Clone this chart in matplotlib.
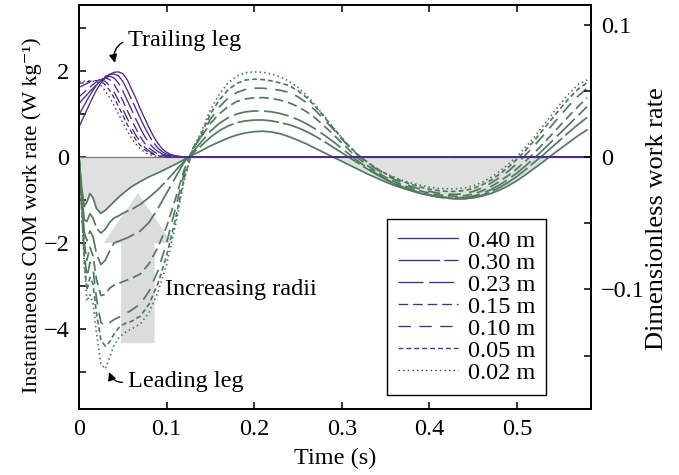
import matplotlib
matplotlib.use('Agg')
import matplotlib.pyplot as plt

plt.rcParams['font.family'] = ['Liberation Serif', 'DejaVu Serif']
plt.rcParams['mathtext.fontset'] = 'stix'
plt.rcParams['font.size'] = 17.5
plt.rcParams['lines.scale_dashes'] = False
plt.rcParams['axes.unicode_minus'] = True

# ---------------- data ----------------
radii_labels = ['0.40 m', '0.30 m', '0.23 m', '0.15 m', '0.10 m', '0.05 m', '0.02 m']

time_lead = [0, 0.003, 0.006, 0.009, 0.0125, 0.016, 0.02, 0.025, 0.03, 0.035, 0.04, 0.045, 0.05, 0.055,
             0.06, 0.07, 0.08, 0.09, 0.10, 0.11, 0.12,
             0.13, 0.14, 0.15, 0.16, 0.17, 0.18, 0.19, 0.20, 0.21, 0.22, 0.23, 0.24,
             0.25, 0.26, 0.27, 0.28, 0.29, 0.30, 0.31, 0.32, 0.33, 0.34, 0.35, 0.36,
             0.37, 0.38, 0.39, 0.40, 0.41, 0.42, 0.43, 0.44, 0.45, 0.46, 0.47, 0.48,
             0.49, 0.50, 0.51, 0.52, 0.53, 0.54, 0.55, 0.56, 0.57, 0.58]

lead_040 = [0, -0.70, -1.15, -1.05, -0.85, -0.95, -1.20, -1.31, -1.24, -1.14, -1.04, -0.94, -0.85, -0.77,
            -0.69, -0.57, -0.46, -0.37, -0.27, -0.17, -0.06,
            0.05, 0.15, 0.26, 0.35, 0.44, 0.51, 0.56, 0.59, 0.60, 0.58, 0.54, 0.47,
            0.39, 0.30, 0.20, 0.10, 0.00, -0.10, -0.20, -0.30, -0.40, -0.49, -0.58, -0.66,
            -0.73, -0.79, -0.85, -0.89, -0.93, -0.95, -0.97, -0.97, -0.95, -0.91, -0.85, -0.77,
            -0.67, -0.55, -0.41, -0.26, -0.11, 0.05, 0.20, 0.35, 0.50, 0.63]
lead_030 = [0, -0.85, -1.45, -1.50, -1.32, -1.42, -1.65, -1.77, -1.68, -1.52, -1.42, -1.37, -1.31, -1.26,
            -1.22, -1.10, -0.94, -0.76, -0.55, -0.32, -0.10,
            0.09, 0.27, 0.46, 0.61, 0.72, 0.80, 0.84, 0.86, 0.86, 0.84, 0.80, 0.75,
            0.68, 0.59, 0.48, 0.36, 0.23, 0.10, -0.03, -0.16, -0.29, -0.41, -0.52, -0.62,
            -0.71, -0.78, -0.84, -0.89, -0.93, -0.96, -0.97, -0.97, -0.94, -0.89, -0.81, -0.71,
            -0.59, -0.45, -0.29, -0.12, 0.05, 0.23, 0.41, 0.59, 0.76, 0.92]
lead_023 = [0, -0.95, -1.75, -1.95, -1.72, -1.85, -2.25, -2.50, -2.40, -2.18, -2.00, -1.96, -1.92, -1.88,
            -1.83, -1.72, -1.52, -1.20, -0.84, -0.48, -0.12,
            0.12, 0.36, 0.60, 0.78, 0.91, 1.00, 1.05, 1.07, 1.07, 1.05, 1.01, 0.95,
            0.87, 0.77, 0.65, 0.51, 0.36, 0.20, 0.04, -0.12, -0.26, -0.39, -0.51, -0.61,
            -0.70, -0.77, -0.83, -0.88, -0.92, -0.94, -0.95, -0.94, -0.91, -0.85, -0.76, -0.65,
            -0.52, -0.37, -0.20, -0.02, 0.17, 0.37, 0.57, 0.77, 0.97, 1.17]
lead_015 = [0, -1.05, -2.00, -2.40, -2.10, -2.30, -2.85, -3.22, -3.20, -3.05, -2.98, -2.94, -2.90, -2.86,
            -2.82, -2.72, -2.48, -2.10, -1.62, -0.98, -0.30,
            0.20, 0.48, 0.78, 1.00, 1.17, 1.29, 1.35, 1.38, 1.38, 1.36, 1.32, 1.26,
            1.17, 1.05, 0.90, 0.72, 0.53, 0.33, 0.13, -0.05, -0.21, -0.35, -0.47, -0.57,
            -0.66, -0.73, -0.79, -0.84, -0.88, -0.90, -0.91, -0.90, -0.86, -0.79, -0.69, -0.57,
            -0.43, -0.27, -0.09, 0.10, 0.31, 0.53, 0.75, 0.97, 1.18, 1.38]
lead_010 = [0, -1.10, -2.20, -2.80, -2.45, -2.60, -3.30, -3.85, -3.93, -3.85, -3.78, -3.73, -3.68, -3.62,
            -3.56, -3.42, -3.12, -2.65, -2.00, -1.20, -0.38,
            0.17, 0.50, 0.88, 1.16, 1.37, 1.50, 1.57, 1.60, 1.60, 1.58, 1.55, 1.50,
            1.40, 1.26, 1.08, 0.87, 0.65, 0.42, 0.20, 0.01, -0.15, -0.29, -0.42, -0.52,
            -0.61, -0.69, -0.75, -0.80, -0.84, -0.86, -0.87, -0.85, -0.80, -0.72, -0.61, -0.48,
            -0.33, -0.15, 0.05, 0.27, 0.50, 0.74, 0.98, 1.21, 1.42, 1.60]
lead_005 = [0, -1.15, -2.35, -3.10, -2.80, -2.95, -3.65, -4.25, -4.40, -4.30, -4.12, -3.98, -3.90, -3.85,
            -3.82, -3.70, -3.42, -2.95, -2.30, -1.45, -0.50,
            0.18, 0.55, 1.00, 1.32, 1.56, 1.71, 1.79, 1.81, 1.80, 1.77, 1.72, 1.66,
            1.54, 1.38, 1.17, 0.93, 0.68, 0.44, 0.22, 0.03, -0.13, -0.27, -0.39, -0.49,
            -0.57, -0.64, -0.70, -0.75, -0.78, -0.80, -0.80, -0.78, -0.73, -0.65, -0.54, -0.40,
            -0.24, -0.05, 0.16, 0.39, 0.64, 0.89, 1.14, 1.38, 1.58, 1.73]
lead_002 = [0, -1.20, -2.50, -3.35, -3.20, -3.40, -4.10, -4.80, -4.93, -4.65, -4.38, -4.22, -4.12, -4.05,
            -4.00, -3.88, -3.62, -3.15, -2.50, -1.60, -0.55,
            0.20, 0.60, 1.10, 1.45, 1.72, 1.88, 1.96, 1.98, 1.97, 1.93, 1.86, 1.76,
            1.62, 1.43, 1.20, 0.95, 0.69, 0.44, 0.21, 0.02, -0.14, -0.27, -0.38, -0.47,
            -0.55, -0.61, -0.66, -0.70, -0.73, -0.74, -0.74, -0.72, -0.67, -0.59, -0.48, -0.34,
            -0.17, 0.02, 0.23, 0.47, 0.73, 0.99, 1.25, 1.49, 1.69, 1.79]

time_trail = [0, 0.005, 0.01, 0.015, 0.02, 0.025, 0.03, 0.035, 0.04, 0.045, 0.05, 0.055, 0.06, 0.065,
              0.07, 0.075, 0.08, 0.085, 0.09, 0.095, 0.10, 0.105, 0.11, 0.115, 0.12, 0.125, 0.13, 0.135,
              0.14, 0.59]
trail_040 = [0.70, 0.92, 1.14, 1.36, 1.56, 1.72, 1.84, 1.92, 1.97, 1.98, 1.94, 1.80, 1.58, 1.36,
             1.12, 0.90, 0.68, 0.48, 0.32, 0.19, 0.11, 0.06, 0.03, 0.015, 0.005, 0, 0, 0, 0, 0]
trail_030 = [0.98, 1.17, 1.35, 1.52, 1.67, 1.78, 1.87, 1.92, 1.93, 1.89, 1.76, 1.56, 1.34, 1.12,
             0.90, 0.69, 0.50, 0.34, 0.21, 0.12, 0.07, 0.04, 0.02, 0.01, 0, 0, 0, 0, 0, 0]
trail_023 = [1.25, 1.36, 1.47, 1.58, 1.68, 1.77, 1.84, 1.88, 1.84, 1.72, 1.54, 1.32, 1.10, 0.88,
             0.67, 0.48, 0.33, 0.21, 0.13, 0.07, 0.04, 0.02, 0.01, 0, 0, 0, 0, 0, 0, 0]
trail_015 = [1.40, 1.49, 1.58, 1.67, 1.75, 1.81, 1.84, 1.80, 1.69, 1.52, 1.31, 1.09, 0.87, 0.66,
             0.47, 0.32, 0.21, 0.13, 0.07, 0.04, 0.02, 0.01, 0, 0, 0, 0, 0, 0, 0, 0]
trail_010 = [1.62, 1.67, 1.72, 1.76, 1.79, 1.80, 1.76, 1.66, 1.51, 1.32, 1.11, 0.90, 0.69, 0.50,
             0.35, 0.23, 0.14, 0.08, 0.05, 0.03, 0.01, 0, 0, 0, 0, 0, 0, 0, 0, 0]
trail_005 = [1.71, 1.73, 1.75, 1.77, 1.78, 1.76, 1.68, 1.55, 1.38, 1.18, 0.97, 0.76, 0.57, 0.40,
             0.27, 0.17, 0.10, 0.06, 0.03, 0.015, 0, 0, 0, 0, 0, 0, 0, 0, 0, 0]
trail_002 = [1.74, 1.76, 1.77, 1.77, 1.74, 1.66, 1.54, 1.38, 1.20, 1.00, 0.80, 0.61, 0.44, 0.30,
             0.19, 0.11, 0.06, 0.03, 0.015, 0, 0, 0, 0, 0, 0, 0, 0, 0, 0, 0]

lead_series = [lead_040, lead_030, lead_023, lead_015, lead_010, lead_005, lead_002]
trail_series = [trail_040, trail_030, trail_023, trail_015, trail_010, trail_005, trail_002]

x_ticks = [0, 0.1, 0.2, 0.3, 0.4, 0.5]
x_ticklabels = ['0', '0.1', '0.2', '0.3', '0.4', '0.5']
y_ticks = [-5, -4, -3, -2, -1, 0, 1, 2, 3]
y_ticklabels = ['', '\u22124', '', '\u22122', '', '0', '', '2', '']
y2_ticks = [-0.15, -0.1, -0.05, 0, 0.05, 0.1]
y2_ticklabels = ['', '\u22120.1', '', '0', '', '0.1']

# ---------------- styles ----------------
purple = '#4b2b8e'
green = '#507b5f'
dash_styles = ['-', (0, (30, 3)), (0, (18, 4)), (0, (7, 3.5)), (0, (9, 6)), (0, (3.5, 2.2)), (0, (1.1, 2.2))]

fig = plt.figure(figsize=(6.79, 4.75), dpi=100)
ax = fig.add_axes([79 / 679, 66 / 475, 512 / 679, 404 / 475])
ylim = (-5.86, 3.535)
ax.set_xlim(0, 0.5845)
ax.set_ylim(*ylim)

# shaded area under the 0.40 m leading-leg curve
ax.fill_between(time_lead, 0, lead_040, where=[v <= 0.001 for v in lead_040],
                color='#e0e0e0', lw=0, zorder=1, interpolate=True)

# big "increasing radii" arrow
ax.arrow(0.0672, -4.33, 0, 3.49, width=0.0384, head_width=0.0786, head_length=1.16,
         length_includes_head=True, fc='#dcdcdc', ec='none', zorder=1.5)

ax.axhline(0, color='#7a7a7a', lw=0.9, zorder=2)

for vals, ls in zip(lead_series, dash_styles):
    ax.plot(time_lead, vals, color=green, lw=1.25, linestyle=ls, zorder=3)

handles = []
for vals, ls, lab in zip(trail_series, dash_styles, radii_labels):
    h, = ax.plot(time_trail, vals, color=purple, lw=0.95, linestyle=ls, zorder=4, label=lab)
    handles.append(h)

ax.text(0.098, -3.09, 'Increasing radii', ha='left', va='center', zorder=5)

ax.annotate('Trailing leg', xy=(0.041, 2.19), xytext=(0.0559, 2.72), ha='left', va='center',
            arrowprops=dict(arrowstyle='-|>', color='black', lw=1.0, mutation_scale=12,
                            connectionstyle='arc3,rad=0.45', relpos=(0, 0.5),
                            shrinkA=2, shrinkB=0), zorder=5)
ax.annotate('Leading leg', xy=(0.0342, -5.0), xytext=(0.0559, -5.22), ha='left', va='center',
            arrowprops=dict(arrowstyle='-|>', color='black', lw=1.0, mutation_scale=12,
                            connectionstyle='arc3,rad=-0.45', relpos=(0, 0.5),
                            shrinkA=2, shrinkB=0), zorder=5)

leg = ax.legend(handles=handles, loc='lower right', bbox_to_anchor=(0.912, 0.035),
                borderaxespad=0, frameon=True, fancybox=False, framealpha=1,
                edgecolor='black', handlelength=2.45, handletextpad=0.4,
                labelspacing=0.0, borderpad=0.45)
leg.get_frame().set_linewidth(1.0)
leg.set_zorder(6)

ax.set_xticks(x_ticks)
ax.set_xticklabels(x_ticklabels)
ax.set_yticks(y_ticks)
ax.set_yticklabels(y_ticklabels)
ax.tick_params(direction='in', length=5, width=1.1, top=True, right=False, pad=7)
for s in ax.spines.values():
    s.set_linewidth(1.3)

ax.set_xlabel('Time (s)', labelpad=6)
ax.set_ylabel('Instantaneous COM work rate (W kg\u207b\u00b9)', labelpad=1, fontsize=16)
ax.yaxis.label.set_y(0.48)

k = 0.1 / 3.08
ax2 = ax.twinx()
ax2.set_ylim(ylim[0] * k, ylim[1] * k)
ax2.set_yticks(y2_ticks)
ax2.set_yticklabels(y2_ticklabels)
ax2.tick_params(direction='in', length=5, width=1.1, pad=7)
ax2.set_ylabel('Dimensionless work rate', labelpad=1, fontsize=19)
ax2.yaxis.label.set_y(0.47)
for s in ax2.spines.values():
    s.set_linewidth(1.3)

fig.savefig('out.png', dpi=100)
